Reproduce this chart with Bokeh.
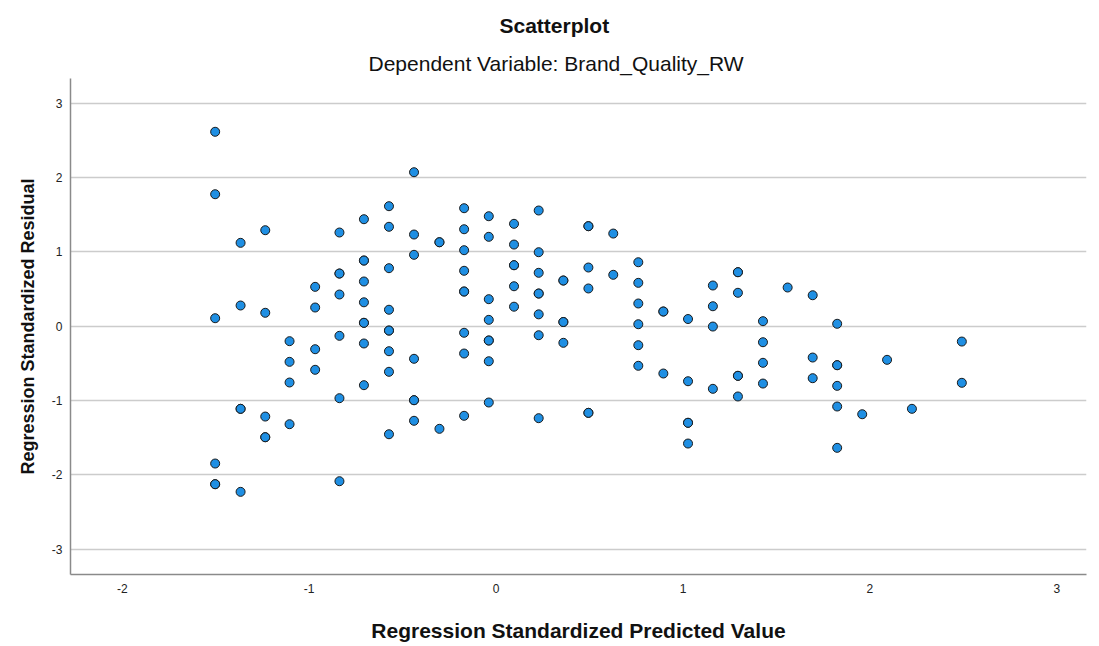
from bokeh.plotting import figure
from bokeh.models import Range1d, Title, FixedTicker
from bokeh.embed import file_html
from bokeh.resources import INLINE

# Regression standardized predicted value (x) and standardized residual (y)
pred = [
    -1.503, -1.503, -1.503, -1.503, -1.503, -1.503,
    -1.367, -1.367, -1.367, -1.367, -1.367,
    -1.235, -1.235, -1.235, -1.235, -1.235,
    -1.105, -1.105, -1.105, -1.105,
    -0.968, -0.968, -0.968, -0.968,
    -0.838, -0.838, -0.838, -0.838, -0.838, -0.838, -0.838,
    -0.707, -0.707, -0.707, -0.707, -0.707, -0.707, -0.707, -0.707, -0.707,
    -0.573, -0.573, -0.573, -0.573, -0.573, -0.573, -0.573, -0.573, -0.573,
    -0.439, -0.439, -0.439, -0.439, -0.439, -0.439, -0.439,
    -0.303, -0.303, -0.303,
    -0.171, -0.171, -0.171, -0.171, -0.171, -0.171, -0.171, -0.171, -0.171,
    -0.039, -0.039, -0.039, -0.039, -0.039, -0.039, -0.039, -0.039,
    0.096, 0.096, 0.096, 0.096, 0.096, 0.096,
    0.228, 0.228, 0.228, 0.228, 0.228, 0.228, 0.228, 0.228,
    0.360, 0.360, 0.360, 0.360, 0.360,
    0.494, 0.494, 0.494, 0.494, 0.494, 0.494,
    0.627, 0.627,
    0.761, 0.761, 0.761, 0.761, 0.761, 0.761,
    0.895, 0.895, 0.895,
    1.027, 1.027, 1.027, 1.027, 1.027,
    1.160, 1.160, 1.160, 1.160,
    1.294, 1.294, 1.294, 1.294, 1.294, 1.294,
    1.428, 1.428, 1.428, 1.428,
    1.560,
    1.694, 1.694, 1.694,
    1.825, 1.825, 1.825, 1.825, 1.825, 1.825,
    1.959,
    2.092,
    2.225,
    2.492, 2.492,
]
resid = [
    2.613, 1.773, 0.105, -1.850, -2.128, -2.128,
    1.119, 0.276, -1.114, -1.114, -2.231,
    1.289, 0.178, -1.218, -1.496, -1.496,
    -0.204, -0.482, -0.760, -1.321,
    0.527, 0.249, -0.312, -0.589,
    1.258, 0.706, 0.706, 0.424, -0.132, -0.971, -2.088,
    1.437, 0.881, 0.881, 0.599, 0.319, 0.043, 0.043, -0.235, -0.796,
    1.612, 1.335, 0.778, 0.219, -0.061, -0.061, -0.339, -0.616, -1.456,
    2.069, 1.231, 0.958, -0.441, -0.998, -0.998, -1.275,
    1.127, 1.127, -1.383,
    1.585, 1.302, 1.020, 0.743, 0.464, 0.464, -0.091, -0.370, -1.208,
    1.477, 1.200, 0.361, 0.083, -0.195, -0.195, -0.474, -1.029,
    1.375, 1.096, 0.818, 0.818, 0.535, 0.260,
    1.554, 0.993, 0.716, 0.437, 0.437, 0.157, -0.124, -1.240,
    0.612, 0.612, 0.054, 0.054, -0.226,
    1.343, 1.343, 0.787, 0.505, -1.168, -1.168,
    1.244, 0.689,
    0.858, 0.581, 0.303, 0.024, -0.258, -0.535,
    0.195, 0.195, -0.639,
    0.094, -0.743, -1.302, -1.302, -1.581,
    0.545, 0.266, -0.007, -0.845,
    0.724, 0.724, 0.447, -0.670, -0.670, -0.948,
    0.065, -0.218, -0.495, -0.774,
    0.518,
    0.414, -0.424, -0.702,
    0.030, -0.527, -0.527, -0.805, -1.083, -1.639,
    -1.187,
    -0.455,
    -1.114,
    -0.209, -0.764,
]
x_ticks = [-2, -1, 0, 1, 2, 3]
y_ticks = [-3, -2, -1, 0, 1, 2, 3]
title_text = "Scatterplot"
subtitle_text = "Dependent Variable: Brand_Quality_RW"

FONT = "Liberation Sans"

p = figure(width=1099, height=646, output_backend="svg", toolbar_location=None,
           x_range=Range1d(-2.277, 3.159), y_range=Range1d(-3.343, 3.33),
           min_border_left=70, min_border_right=13, min_border_top=78,
           min_border_bottom=72)
p.outline_line_color = None
p.background_fill_color = "white"
p.border_fill_color = "white"

# titles (added from the plot outward)
p.add_layout(Title(text=subtitle_text, align="left", offset=298,
                   text_font=FONT, text_font_size="21px", text_font_style="normal",
                   text_color="#111111", standoff=7), "above")
p.add_layout(Title(text=title_text, align="left", offset=429,
                   text_font=FONT, text_font_size="21px", text_font_style="bold",
                   text_color="#111111", standoff=20), "above")

p.xgrid.grid_line_color = None
p.ygrid.grid_line_color = "#cccccc"
p.ygrid.grid_line_width = 1.5
p.ygrid.ticker = FixedTicker(ticks=y_ticks)

for ax in (p.xaxis[0], p.yaxis[0]):
    ax.axis_line_color = "#8a8a8a"
    ax.axis_line_width = 1.5
    ax.major_tick_line_color = None
    ax.minor_tick_line_color = None
    ax.major_tick_out = 0
    ax.major_tick_in = 0
    ax.major_label_text_font = FONT
    ax.major_label_text_font_size = "12px"
    ax.major_label_text_color = "#222222"
    ax.axis_label_text_font = FONT
    ax.axis_label_text_font_style = "bold"
    ax.axis_label_text_color = "#111111"

p.xaxis[0].axis_label_text_font_size = "21px"
p.yaxis[0].axis_label_text_font_size = "18px"
p.xaxis[0].ticker = FixedTicker(ticks=x_ticks)
p.yaxis[0].ticker = FixedTicker(ticks=y_ticks)
p.xaxis[0].major_label_overrides = {t: str(t) for t in x_ticks}
p.yaxis[0].major_label_overrides = {t: str(t) for t in y_ticks}
p.xaxis[0].axis_label = "Regression Standardized Predicted Value"
p.yaxis[0].axis_label = "Regression Standardized Residual"
p.xaxis[0].major_label_standoff = 9
p.xaxis[0].axis_label_standoff = 23
p.yaxis[0].major_label_standoff = 8
p.yaxis[0].axis_label_standoff = 11

p.scatter(pred, resid, size=9, marker="circle", fill_color="#1f8fe3",
          line_color="#1a1a1a", line_width=1)

open("out.html", "w").write(file_html(p, INLINE))
